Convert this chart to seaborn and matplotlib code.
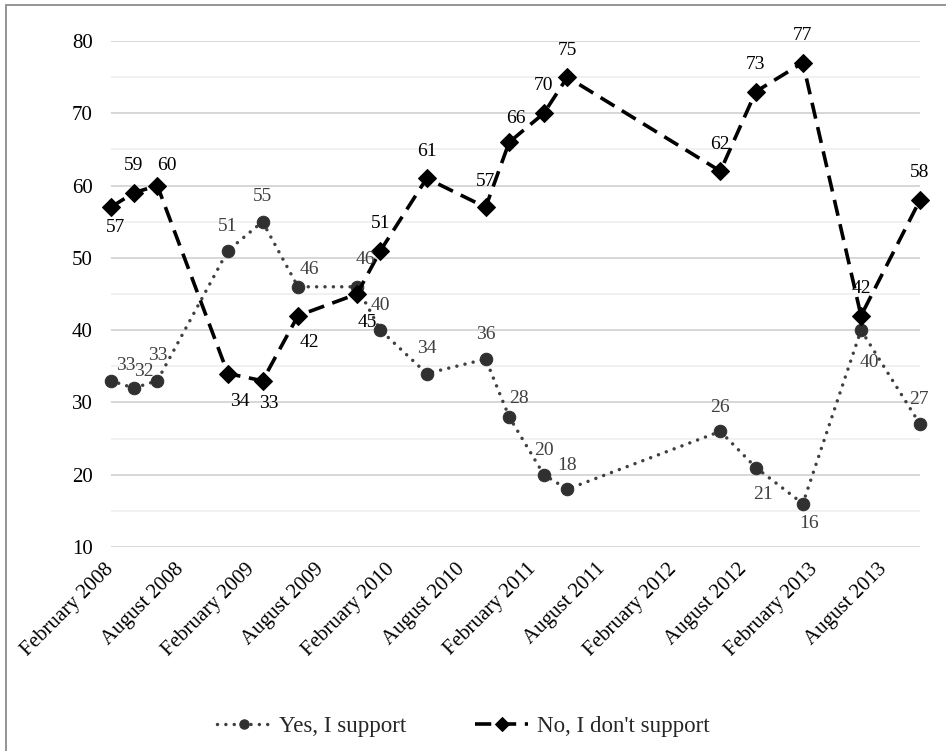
import pandas as pd
import matplotlib.pyplot as plt
from matplotlib.patches import Rectangle
import seaborn as sns

# survey waves (month of fieldwork) and answers in percent
survey_months = ["2008-02", "2008-04", "2008-06", "2008-12", "2009-03", "2009-06",
                 "2009-11", "2010-01", "2010-05", "2010-10", "2010-12", "2011-03",
                 "2011-05", "2012-06", "2012-09", "2013-01", "2013-06", "2013-11"]
yes_support = [33, 32, 33, 51, 55, 46, 46, 40, 34, 36, 28, 20, 18, 26, 21, 16, 40, 27]
no_support = [57, 59, 60, 34, 33, 42, 45, 51, 61, 57, 66, 70, 75, 62, 73, 77, 42, 58]

tick_months = ["2008-02", "2008-08", "2009-02", "2009-08", "2010-02", "2010-08",
               "2011-02", "2011-08", "2012-02", "2012-08", "2013-02", "2013-08"]
tick_labels = ["February 2008", "August 2008", "February 2009", "August 2009",
               "February 2010", "August 2010", "February 2011", "August 2011",
               "February 2012", "August 2012", "February 2013", "August 2013"]

# where each data label sits relative to its point (pixels, right / down)
yes_label_offsets = [(15, -15), (10, -16), (0, -25), (0, -24), (0, -25), (11, -17),
                     (8, -27), (0, -25), (0, -25), (0, -25), (10, -18), (0, -24),
                     (0, -24), (0, -24), (7, 27), (6, 20), (8, 32), (-1, -25)]
no_label_offsets = [(5, 20), (0, -27), (10, -20), (12, 28), (6, 23), (11, 27),
                    (10, 28), (0, -27), (0, -27), (0, -26), (7, -24), (0, -28),
                    (0, -27), (0, -27), (0, -27), (0, -27), (0, -27), (0, -28)]

df = pd.DataFrame({
    "date": pd.to_datetime(survey_months),
    "yes": yes_support,
    "no": no_support,
})

sns.set_theme(style="white")
plt.rcParams["font.family"] = ["Liberation Serif", "DejaVu Serif"]

fig = plt.figure(figsize=(9.46, 7.51), dpi=100)
ax = fig.add_axes([0.117, 0.2716, 0.8555, 0.6738])

yes_color = "#404040"
sns.lineplot(data=df, x="date", y="yes", ax=ax, color=yes_color, linewidth=2.5,
             linestyle=(0, (0.01, 2.4)), marker="o", markersize=9,
             markeredgecolor="#303030", markerfacecolor="#303030",
             label="Yes, I support", clip_on=False)
sns.lineplot(data=df, x="date", y="no", ax=ax, color="black", linewidth=2.6,
             linestyle=(0, (4.5, 2.4)), marker="D", markersize=9,
             markeredgecolor="black", markerfacecolor="black",
             label="No, I don't support", clip_on=False)
ax.lines[0].set_dash_capstyle("round")

# data labels
for d, v, (dx, dy) in zip(df["date"], df["yes"], yes_label_offsets):
    ax.annotate(str(v), (d, v), xytext=(dx, -dy), textcoords="offset pixels",
                ha="center", va="center", fontsize=14, color=yes_color)
for d, v, (dx, dy) in zip(df["date"], df["no"], no_label_offsets):
    ax.annotate(str(v), (d, v), xytext=(dx, -dy), textcoords="offset pixels",
                ha="center", va="center", fontsize=14, color="black")

ax.set_ylim(10, 80)
ax.set_yticks(range(10, 81, 10))
ax.set_yticks(range(15, 80, 10), minor=True)
ax.set_xlim(pd.Timestamp("2008-02-01"), pd.Timestamp("2013-11-01"))
ax.set_xticks(pd.to_datetime(tick_months))
ax.set_xticklabels(tick_labels, rotation=45, ha="right", va="center",
                   rotation_mode="anchor")
ax.tick_params(axis="x", length=0, pad=14, labelsize=15, colors="black")
ax.tick_params(axis="y", length=0, pad=13, labelsize=15, colors="black")
ax.tick_params(which="minor", length=0)

ax.grid(True, which="major", axis="y", color="#d4d4d4", linewidth=1.3)
ax.grid(True, which="minor", axis="y", color="#eeeeee", linewidth=1.1)
ax.grid(False, axis="x")
ax.set_axisbelow(True)
for side in ax.spines.values():
    side.set_visible(False)
ax.set_xlabel("")
ax.set_ylabel("")

ax.legend(loc="center", bbox_to_anchor=(0.49, 0.032), bbox_transform=fig.transFigure,
          ncol=2, frameon=False, fontsize=16.5, handlelength=2.3, columnspacing=3.0,
          handletextpad=0.4, markerscale=0.75)

# outer chart frame (runs off the right and bottom edge)
fig.patches.append(Rectangle((6 / 946, -0.05), 1.0, 1 - 5 / 751 + 0.05,
                             transform=fig.transFigure, fill=False,
                             edgecolor="#8c8c8c", linewidth=1.3))

fig.savefig("out.png", dpi=100)
